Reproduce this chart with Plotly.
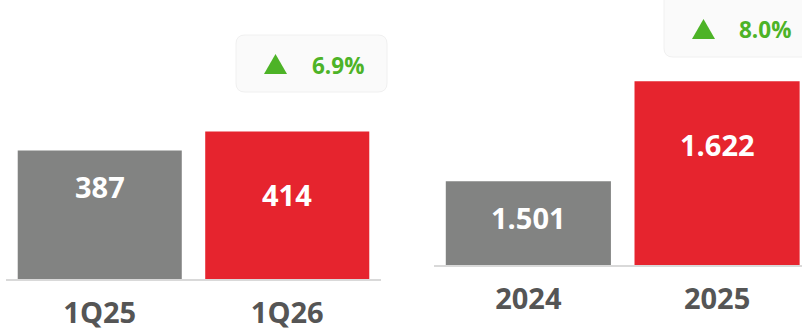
import plotly.graph_objects as go

# Quarterly comparison (left panel)
quarters = ["1Q25", "1Q26"]
quarter_values = [387, 414]
quarter_growth = "6.9%"

# Annual comparison (right panel)
years = ["2024", "2025"]
year_values = [1501, 1622]
year_growth = "8.0%"

bar_colors = ["#828382", "#E6242E"]
W, H = 802, 331
GREEN = "#4DB327"
FONT = "Open Sans"


def fmt(v):
    # thousands separated with a dot
    return f"{v:,}".replace(",", ".")


def px(x, y):
    return x / W, 1 - y / H


fig = go.Figure()
fig.add_trace(go.Bar(x=quarters, y=quarter_values, marker_color=bar_colors,
                     marker_line_width=0, xaxis="x", yaxis="y",
                     hoverinfo="skip", showlegend=False))
fig.add_trace(go.Bar(x=years, y=year_values, marker_color=bar_colors,
                     marker_line_width=0, xaxis="x2", yaxis="y2",
                     hoverinfo="skip", showlegend=False))

annotations = []
shifts = [-36, -63]
for cats, vals, xr, yr in [(quarters, quarter_values, "x", "y"),
                           (years, year_values, "x2", "y2")]:
    # category axes are addressed by position index
    for i, (v, s) in enumerate(zip(vals, shifts)):
        annotations.append(dict(
            x=i, y=v, xref=xr, yref=yr, text=fmt(v), showarrow=False,
            yshift=s, yanchor="middle",
            font=dict(family=FONT, size=29, color="white", weight=700)))

shapes = []


def badge(x0, y0, x1, y1, r=9):
    # rounded rectangle in paper coordinates, given pixel corners
    rx, ry = r / W, r / H
    a0, b1 = px(x0, y0)
    a1, b0 = px(x1, y1)
    path = (f"M {a0+rx},{b1} L {a1-rx},{b1} Q {a1},{b1} {a1},{b1-ry} "
            f"L {a1},{b0+ry} Q {a1},{b0} {a1-rx},{b0} L {a0+rx},{b0} "
            f"Q {a0},{b0} {a0},{b0+ry} L {a0},{b1-ry} Q {a0},{b1} {a0+rx},{b1} Z")
    shapes.append(dict(type="path", xref="paper", yref="paper", path=path,
                       fillcolor="#FAFAFA", line=dict(color="#F0F0F0", width=1),
                       layer="below"))


def triangle(xc, yc, w=23, h=20):
    p1 = px(xc - w / 2, yc + h / 2)
    p2 = px(xc + w / 2, yc + h / 2)
    p3 = px(xc, yc - h / 2)
    path = f"M {p1[0]},{p1[1]} L {p2[0]},{p2[1]} L {p3[0]},{p3[1]} Z"
    shapes.append(dict(type="path", xref="paper", yref="paper", path=path,
                       fillcolor=GREEN, line=dict(width=0)))


badge(236, 35, 387, 92)
triangle(275.5, 64)
badge(664, -12, 815, 57)
triangle(703.5, 29)

for text, (cx, cy) in [(quarter_growth, (338, 65)), (year_growth, (765, 29))]:
    ax, ay = px(cx, cy)
    annotations.append(dict(x=ax, y=ay, xref="paper", yref="paper", text=text,
                            showarrow=False, xanchor="center", yanchor="middle",
                            font=dict(family=FONT, size=22.5, color=GREEN, weight=700)))

tick_font = dict(family=FONT, size=29, color="#555555", weight=700)
axis_common = dict(type="category", showgrid=False, zeroline=False,
                   showline=True, linecolor="#D9D9D9", linewidth=2,
                   ticks="", tickfont=tick_font, ticklabelstandoff=7,
                   automargin=False, fixedrange=True)

fig.update_layout(
    width=W, height=H, margin=dict(l=0, r=0, t=0, b=0),
    paper_bgcolor="white", plot_bgcolor="white",
    bargap=0.125,
    xaxis=dict(domain=[6 / W, 381 / W], range=[-0.5, 1.5], anchor="y",
               **axis_common),
    yaxis=dict(domain=[(H - 279) / H, 1], range=[205, 600], visible=False,
               anchor="x", fixedrange=True),
    xaxis2=dict(domain=[434 / W, 1], range=[-0.5, 1.45],
                anchor="y2", **axis_common),
    yaxis2=dict(domain=[(H - 265) / H, 1], range=[1400, 1720], visible=False,
                anchor="x2", fixedrange=True),
    annotations=annotations,
    shapes=shapes,
)

fig.write_html("out.html")
